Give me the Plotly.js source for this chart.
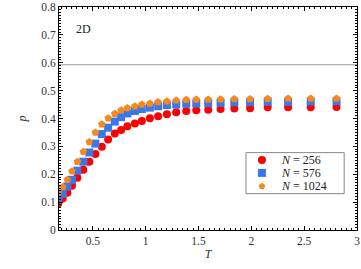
<!DOCTYPE html>
<html>
<head>
<meta charset="utf-8">
<script src="https://cdn.plot.ly/plotly-3.0.1.min.js"></script>
<style>html,body{margin:0;padding:0;background:#fff;}#chart{width:361px;height:269px;}</style>
</head>
<body>
<div id="chart"></div>
<script>
const T = [0.173,0.215,0.259,0.303,0.354,0.410,0.467,0.524,0.585,0.645,0.708,0.768,0.827,0.898,0.964,1.040,1.118,1.201,1.289,1.384,1.479,1.592,1.709,1.839,1.988,2.155,2.348,2.562,2.806];
const p256 = [0.095,0.113,0.134,0.159,0.187,0.216,0.245,0.273,0.299,0.325,0.346,0.359,0.372,0.382,0.391,0.401,0.408,0.415,0.422,0.427,0.430,0.431,0.434,0.436,0.437,0.440,0.440,0.440,0.441];
const p576 = [0.110,0.130,0.156,0.180,0.213,0.245,0.278,0.310,0.344,0.367,0.389,0.405,0.418,0.427,0.434,0.439,0.444,0.448,0.450,0.453,0.454,0.455,0.456,0.458,0.459,0.460,0.460,0.461,0.462];
const p1024 = [0.133,0.154,0.180,0.211,0.245,0.281,0.316,0.350,0.379,0.401,0.417,0.430,0.438,0.444,0.450,0.454,0.459,0.462,0.465,0.467,0.468,0.468,0.469,0.470,0.470,0.471,0.472,0.472,0.472];
const seriesNames = ['<i>N</i> = 256','<i>N</i> = 576','<i>N</i> = 1024'];
const seriesColors = ['#ff0000','#3a78ea','#f5891f'];
const seriesSymbols = ['circle','square','pentagon'];
const pc = 0.5927;
const panelLabel = '2D';

const FONT = 'Liberation Serif, DejaVu Serif, serif';
const seriesValues = [p256, p576, p1024];
const traces = seriesValues.map((vals, i) => ({
  x:T, y:vals, name:seriesNames[i], mode:'markers', type:'scatter', showlegend:false,
  marker:{symbol:seriesSymbols[i], size:8, color:seriesColors[i]}
}));

// compact legend (plotly's native legend rows are taller than the reference)
const legBox = {x0:0.6275, x1:0.957, y0:0.163, y1:0.347};
const legRowY = [0.314, 0.256, 0.196];
const legMarkX = 0.681, legTextX = 0.738;
const legendGlyphs = seriesNames.map((nm, i) => ({
  x:[legMarkX], y:[legRowY[i]], xaxis:'x2', yaxis:'y2', mode:'markers', type:'scatter',
  showlegend:false, hoverinfo:'skip', cliponaxis:false,
  marker:{symbol:seriesSymbols[i], size:i===2?7:8, color:seriesColors[i]}
}));

const axisCommon = {
  showline:true, linecolor:'#000', linewidth:1, mirror:'ticks',
  ticks:'inside', ticklen:4, tickcolor:'#000', tickwidth:1,
  showgrid:false, zeroline:false,
  tickfont:{family:FONT, size:11.5, color:'#333'}
};
const layout = {
  width:361, height:269,
  margin:{l:59, r:4, t:7, b:39},
  paper_bgcolor:'#fff', plot_bgcolor:'#fff',
  font:{family:FONT, size:12, color:'#333'},
  xaxis:Object.assign({}, axisCommon, {
    range:[0.18,3], tickvals:[0.5,1,1.5,2,2.5,3], ticktext:['0.5','1','1.5','2','2.5','3'],
    minor:{ticks:'inside', dtick:0.05, tick0:0, ticklen:2, tickcolor:'#000'},
    title:{text:'<i>T</i>', font:{family:FONT, size:12, color:'#333'}, standoff:3}
  }),
  yaxis:Object.assign({}, axisCommon, {
    range:[0,0.8],
    tickvals:[0,0.1,0.2,0.3,0.4,0.5,0.6,0.7,0.8], ticktext:['0','0.1','0.2','0.3','0.4','0.5','0.6','0.7','0.8'],
    minor:{ticks:'inside', dtick:0.01, tick0:0, ticklen:2, tickcolor:'#000'},
    title:{text:'<i>p</i>', font:{family:FONT, size:12, color:'#333'}, standoff:12}
  }),
  xaxis2:{overlaying:'x', range:[0,1], visible:false, fixedrange:true},
  yaxis2:{overlaying:'y', range:[0,1], visible:false, fixedrange:true},
  shapes:[
    {type:'line', xref:'paper', x0:0, x1:1, yref:'y', y0:pc, y1:pc, line:{color:'#999', width:1}, layer:'below'},
    {type:'rect', xref:'paper', yref:'paper', x0:legBox.x0, x1:legBox.x1, y0:legBox.y0, y1:legBox.y1,
     line:{color:'#888', width:1}, fillcolor:'#fff', layer:'below'}
  ],
  annotations:[{text:panelLabel, xref:'paper', yref:'paper', x:0.05, y:0.9,
                xanchor:'left', yanchor:'middle', showarrow:false,
                font:{family:FONT, size:12, color:'#222'}}].concat(
    seriesNames.map((nm, i) => ({text:nm, xref:'paper', yref:'paper', x:legTextX, y:legRowY[i],
      xanchor:'left', yanchor:'middle', showarrow:false, font:{family:FONT, size:12, color:'#222'}}))),
  showlegend:false
};
Plotly.newPlot('chart', traces.concat(legendGlyphs), layout, {displayModeBar:false, staticPlot:true});
</script>
</body>
</html>
